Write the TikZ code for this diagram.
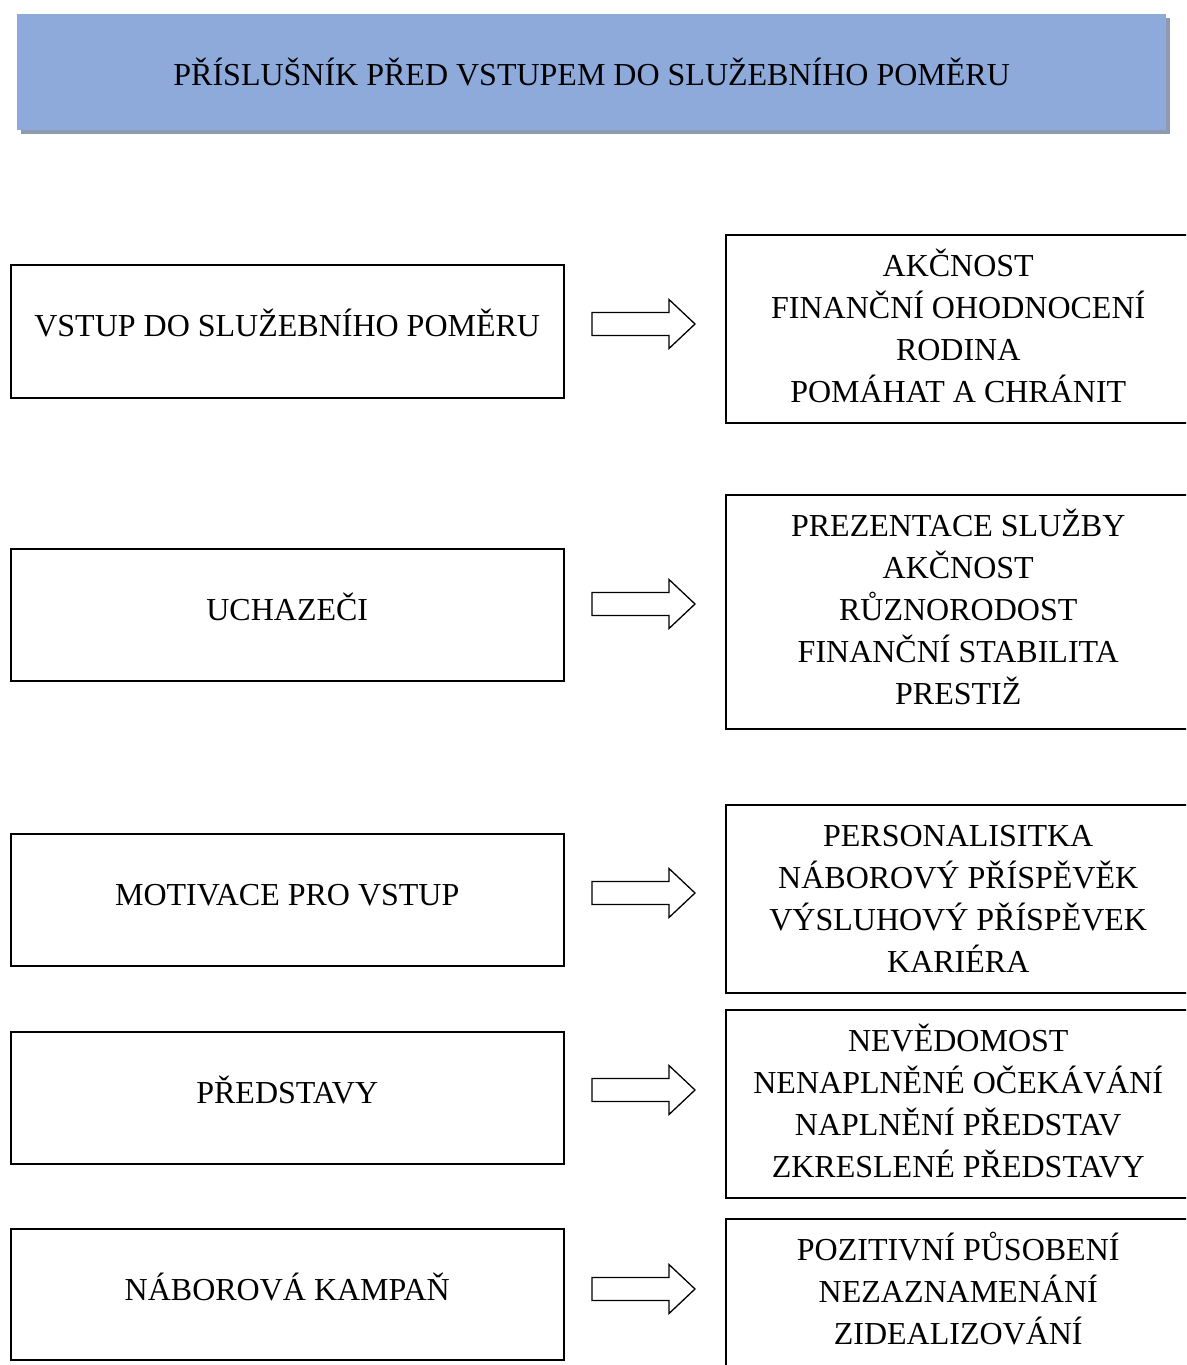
\documentclass[tikz,border=0pt]{standalone}
\usepackage{fontspec}
\setmainfont{Liberation Serif}
\usetikzlibrary{shadows}
\definecolor{headblue}{HTML}{8EAADB}
\definecolor{shadowcol}{HTML}{8E9AB2}
\newcommand{\tbox}[4]{\begin{minipage}[t][#1pt][t]{#2pt}\centering\rule{0pt}{#3pt}#4\end{minipage}}
\tikzset{
  bigfont/.style={font=\fontsize{32}{42}\selectfont},
  frame/.style={draw, line width=1.5pt, inner sep=0pt, anchor=north west, bigfont},
  header/.style={fill=headblue, inner sep=0pt, anchor=north west, minimum width=1149pt, minimum height=116pt, bigfont,
    drop shadow={shadow xshift=4pt, shadow yshift=-4pt, fill=shadowcol, opacity=1}},
  barrow/.pic={\draw[line width=1.3pt, line join=miter, fill=white]
     (-51.5,-11.5) -- (25.5,-11.5) -- (25.5,-24.5) -- (51.5,0) -- (25.5,24.5) -- (25.5,11.5) -- (-51.5,11.5) -- cycle;}
}
\begin{document}
\begin{tikzpicture}[x=1pt, y=-1pt]
\useasboundingbox (0,0) rectangle (1186,1365);
\clip (0,0) rectangle (1186,1365);

\node[header] (H) at (17,14) {PŘÍSLUŠNÍK PŘED VSTUPEM DO SLUŽEBNÍHO POMĚRU};

% left boxes
\node[frame] (L1) at (10,264)  {\tbox{133}{553}{72}{VSTUP DO SLUŽEBNÍHO POMĚRU}};
\node[frame] (L2) at (10,548)  {\tbox{132}{553}{72}{UCHAZEČI}};
\node[frame] (L3) at (10,833)  {\tbox{132}{553}{72}{MOTIVACE PRO VSTUP}};
\node[frame] (L4) at (10,1031) {\tbox{132}{553}{72}{PŘEDSTAVY}};
\node[frame] (L5) at (10,1228) {\tbox{131}{553}{72}{NÁBOROVÁ KAMPAŇ}};

% right boxes
\node[frame] (R1) at (725,234)  {\tbox{188}{465}{42}{AKČNOST\\FINANČNÍ OHODNOCENÍ\\RODINA\\POMÁHAT A CHRÁNIT}};
\node[frame] (R2) at (725,494)  {\tbox{234}{465}{42}{PREZENTACE SLUŽBY\\AKČNOST\\RŮZNORODOST\\FINANČNÍ STABILITA\\PRESTIŽ}};
\node[frame] (R3) at (725,804)  {\tbox{188}{465}{42}{PERSONALISITKA\\NÁBOROVÝ PŘÍSPĚVĚK\\VÝSLUHOVÝ PŘÍSPĚVEK\\KARIÉRA}};
\node[frame] (R4) at (725,1009) {\tbox{188}{465}{42}{NEVĚDOMOST\\NENAPLNĚNÉ OČEKÁVÁNÍ\\NAPLNĚNÍ PŘEDSTAV\\ZKRESLENÉ PŘEDSTAVY}};
\node[frame] (R5) at (725,1218) {\tbox{200}{465}{42}{POZITIVNÍ PŮSOBENÍ\\NEZAZNAMENÁNÍ\\ZIDEALIZOVÁNÍ}};

% block arrows between the boxes
\pic at (643.5,324)  {barrow};
\pic at (643.5,604)  {barrow};
\pic at (643.5,893)  {barrow};
\pic at (643.5,1090) {barrow};
\pic at (643.5,1289) {barrow};
\end{tikzpicture}
\end{document}
